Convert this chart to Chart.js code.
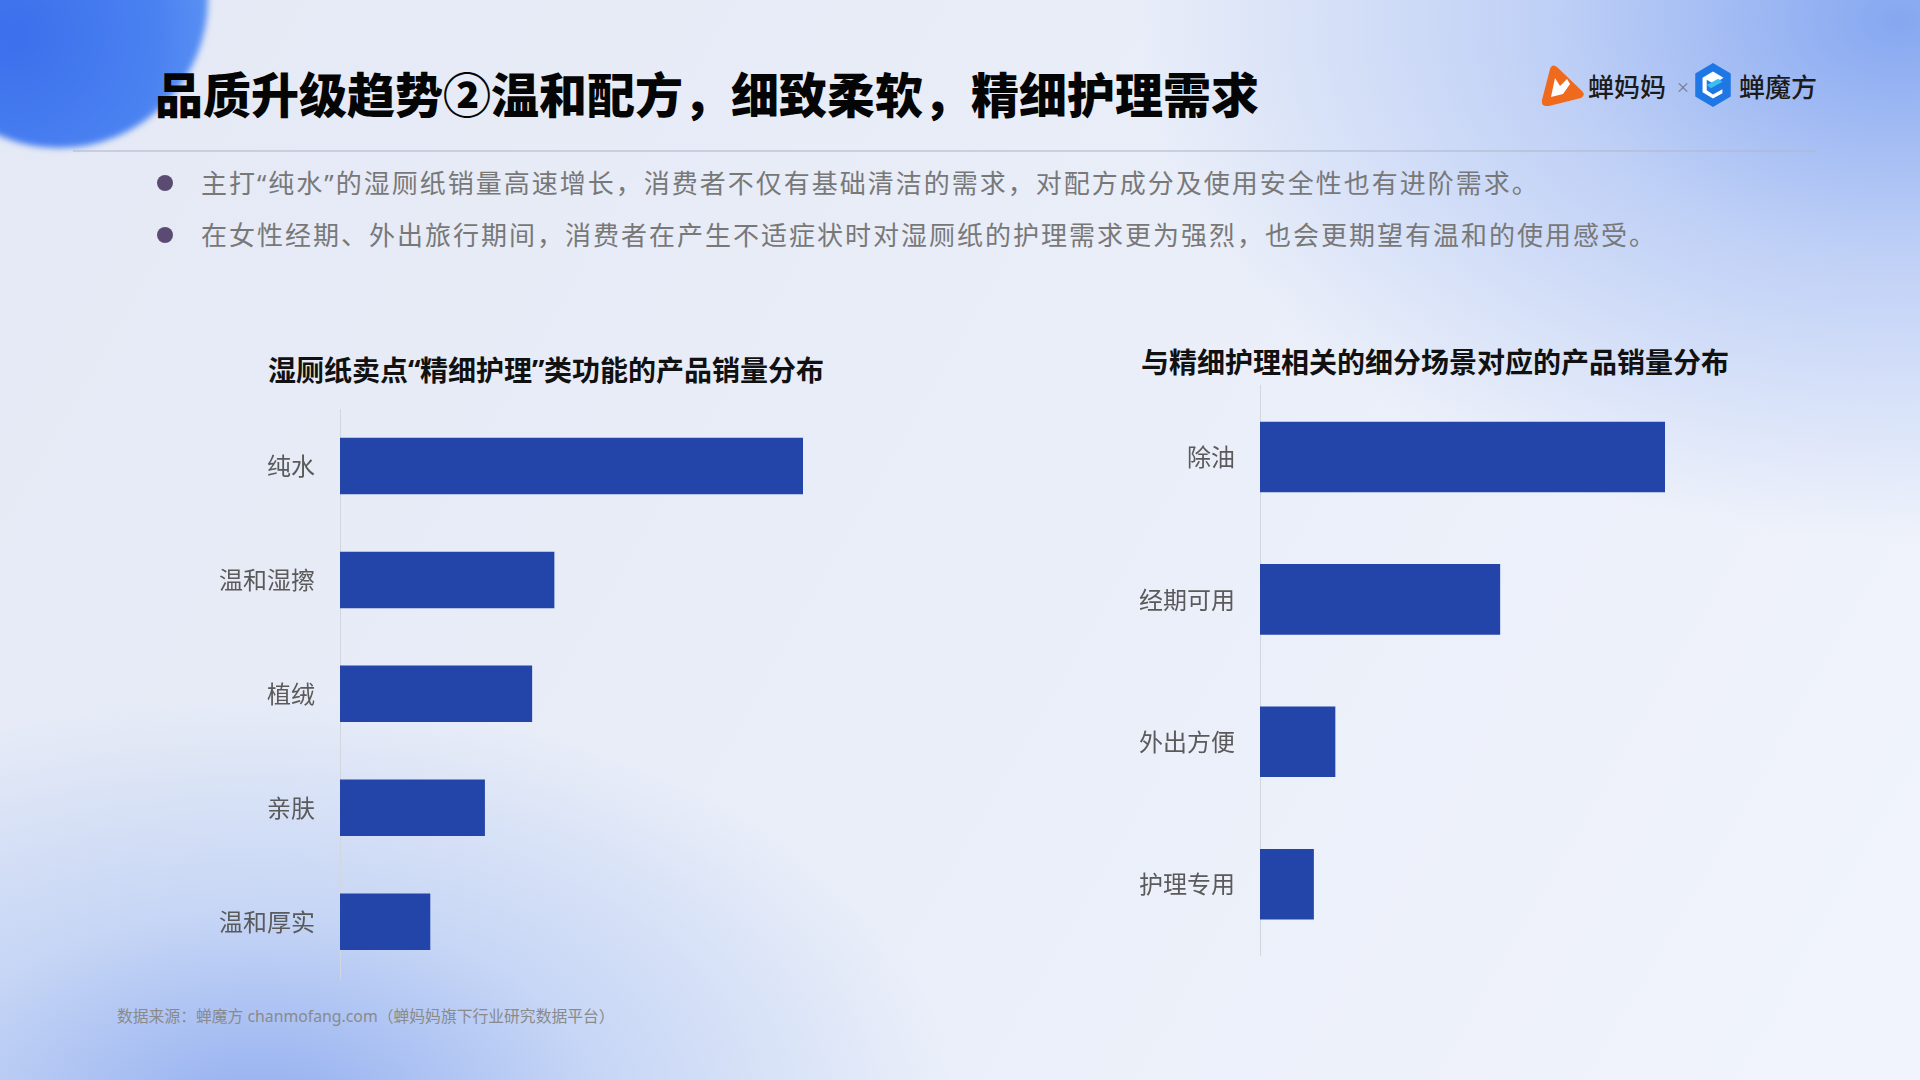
<!DOCTYPE html>
<html lang="zh-CN">
<head>
<meta charset="UTF-8" />
<title>品质升级趋势②温和配方</title>
<script src="https://cdn.jsdelivr.net/npm/chart.js"></script>
<style>
  html, body { margin: 0; padding: 0; }
  body { width: 1920px; height: 1080px; overflow: hidden; font-family: 'Noto Sans CJK SC', 'Noto Sans', sans-serif; }
  #page {
    position: relative; width: 1920px; height: 1080px; overflow: hidden;
    background:
      radial-gradient(ellipse 760px 520px at 1900px 20px, rgba(128,163,240,0.95) 0%, rgba(160,186,244,0.6) 45%, rgba(225,232,248,0) 100%),
      radial-gradient(ellipse 700px 420px at 260px 1120px, rgba(140,170,240,0.95) 0%, rgba(172,196,244,0.55) 50%, rgba(228,234,249,0) 100%),
      linear-gradient(120deg, #e4e9f5 0%, #e8edf8 45%, #f1f4fc 100%);
  }
  .blob {
    position: absolute; left: -90px; top: -150px; width: 298px; height: 298px; border-radius: 50%;
    background: radial-gradient(circle at 35% 62%, #3b6fec 0%, #4b82f1 55%, #6ea6f7 100%);
    filter: blur(3px);
  }
  .abs { position: absolute; white-space: nowrap; }
  #title { left: 155px; top: 62px; font-size: 48px; line-height: 60px; font-weight: 900; color: #050505; }
  #rule { left: 73px; top: 150px; width: 1743px; height: 2px; background: rgba(175,184,204,0.55); }
  .dot { position: absolute; width: 16px; height: 16px; border-radius: 50%; background: #5b4b73; }
  .bullet { font-family: 'Noto Sans', 'Noto Sans CJK SC', sans-serif; font-size: 26px; letter-spacing: 2px; line-height: 40px; color: #787878; }
  .ctitle { font-size: 28px; line-height: 36px; font-weight: 700; color: #111; }
  .q { display: inline-block; width: 12px; font-family: 'Noto Sans', sans-serif; }
  .brand { font-size: 26px; line-height: 34px; font-weight: 500; color: #1b1b1b; }
  #footer { left: 117px; top: 1005px; font-size: 15.8px; line-height: 22px; color: #8a8a8a; font-family: 'Noto Sans', 'Noto Sans CJK SC', sans-serif; }
  canvas { position: absolute; }
</style>
</head>
<body>
<div id="page">
  <div class="blob"></div>

  <div id="title" class="abs">品质升级趋势②温和配方，细致柔软，精细护理需求</div>

  <!-- logos -->
  <svg class="abs" style="left:1540px;top:64px" width="46" height="44" viewBox="0 0 46 44">
    <path d="M6 42 Q1 42 2 36 L10 5 Q12 -1 17 3 L42 27 Q46 31 41 34 L9 42 Z" fill="#ef6a1d"/>
    <path d="M11 33 L15 14 L20 22 L27 15 L30 20 L23 30 Z" fill="#ffffff"/>
  </svg>
  <div class="abs brand" style="left:1588px;top:69px">蝉妈妈</div>
  <div class="abs" style="left:1676px;top:76px;font-size:14px;line-height:20px;color:#777">×</div>
  <svg class="abs" style="left:1692px;top:62px" width="42" height="46" viewBox="0 0 38 44">
    <path d="M19 1 L36 11 L36 33 L19 43 L2 33 L2 11 Z" fill="#1f77e6"/>
    <path d="M19 9 L29 15 L20 21 L13 17 L13 27 L19 31 L28 26 L28 30 L19 35 L9 29 L9 15 Z" fill="#ffffff"/>
    <path d="M13 22 L24 16 L28 19 L17 25 Z" fill="#39c0f0"/>
  </svg>
  <div class="abs brand" style="left:1739px;top:69px">蝉魔方</div>

  <div id="rule" class="abs"></div>

  <div class="dot" style="left:157px;top:175px"></div>
  <div class="abs bullet" style="left:201px;top:163px">主打“纯水”的湿厕纸销量高速增长，消费者不仅有基础清洁的需求，对配方成分及使用安全性也有进阶需求。</div>
  <div class="dot" style="left:157px;top:227px"></div>
  <div class="abs bullet" style="left:201px;top:215px">在女性经期、外出旅行期间，消费者在产生不适症状时对湿厕纸的护理需求更为强烈，也会更期望有温和的使用感受。</div>

  <div class="abs ctitle" style="left:268px;top:351px">湿厕纸卖点<span class="q" style="text-align:right">“</span>精细护理<span class="q" style="text-align:left">”</span>类功能的产品销量分布</div>
  <div class="abs ctitle" style="left:1141px;top:343px">与精细护理相关的细分场景对应的产品销量分布</div>

  <canvas id="leftChart" width="643" height="590" style="left:160px;top:400px"></canvas>
  <canvas id="rightChart" width="585" height="580" style="left:1080px;top:380px"></canvas>

  <div id="footer" class="abs">数据来源：蝉魔方 chanmofang.com（蝉妈妈旗下行业研究数据平台）</div>
</div>

<script>
  // relative sales volume, longest bar = 100
  const leftCategories = ['纯水', '温和湿擦', '植绒', '亲肤', '温和厚实'];
  const leftValues = [100, 46.3, 41.5, 31.3, 19.5];

  const rightCategories = ['除油', '经期可用', '外出方便', '护理专用'];
  const rightValues = [100, 59.3, 18.6, 13.3];

  const barColor = '#2345a9';
  const fontFamily = "'Noto Sans CJK SC', 'Noto Sans', sans-serif";

  function makeChart(id, labels, values, padTop, padBottom) {
    return new Chart(document.getElementById(id), {
      type: 'bar',
      data: {
        labels: labels,
        datasets: [{
          data: values,
          backgroundColor: barColor,
          borderWidth: 0,
          barPercentage: 0.496,
          categoryPercentage: 1
        }]
      },
      options: {
        indexAxis: 'y',
        responsive: false,
        animation: false,
        layout: { padding: { top: padTop, bottom: padBottom, left: 0, right: 0 } },
        plugins: { legend: { display: false }, tooltip: { enabled: false } },
        scales: {
          x: { display: false, min: 0, max: 100 },
          y: {
            grid: { display: false, drawTicks: false },
            border: { display: true, color: '#d2d6df', width: 1 },
            ticks: { color: '#5a5a5a', padding: 25, font: { size: 24, family: fontFamily } },
            afterFit: function (scale) {
              scale.width = 180;
              // labels sit inside their bands, no extra room needed
              scale.paddingTop = 0;
              scale.paddingBottom = 0;
            }
          }
        }
      }
    });
  }

  makeChart('leftChart', leftCategories, leftValues, 9, 11.4);
  makeChart('rightChart', rightCategories, rightValues, 5.8, 4.6);
</script>
</body>
</html>
